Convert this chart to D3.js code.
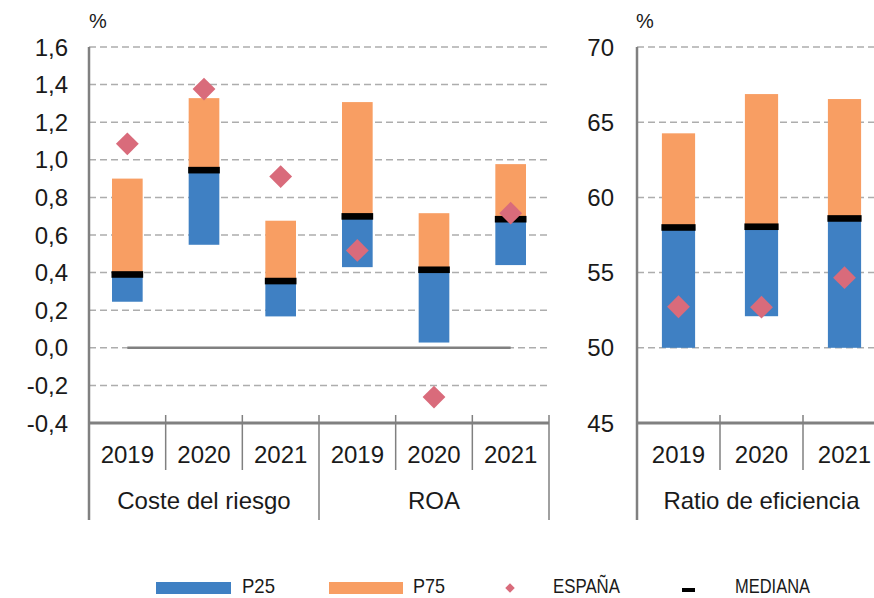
<!DOCTYPE html>
<html>
<head>
<meta charset="utf-8">
<script src="https://cdn.jsdelivr.net/npm/d3@7"></script>
<style>
  body { margin: 0; background: #fff; }
  svg { display: block; font-family: "Liberation Sans", Arial, sans-serif; }
</style>
</head>
<body>
<div id="chart"></div>
<script>
// Data
const years = ['2019', '2020', '2021'];
const leftGroups = ['Coste del riesgo', 'ROA'];
const rightGroups = ['Ratio de eficiencia'];

const costeP25 = [0.245, 0.548, 0.167];
const costeMed = [0.39, 0.945, 0.355];
const costeP75 = [0.90, 1.328, 0.676];
const costeEsp = [1.085, 1.376, 0.911];

const roaP25 = [0.429, 0.028, 0.44];
const roaMed = [0.699, 0.415, 0.684];
const roaP75 = [1.307, 0.716, 0.977];
const roaEsp = [0.518, -0.262, 0.716];

const efP25 = [50.0, 52.1, 50.0];
const efMed = [58.0, 58.05, 58.6];
const efP75 = [64.26, 66.87, 66.54];
const efEsp = [52.73, 52.7, 54.66];

const leftTicks = [-0.4, -0.2, 0, 0.2, 0.4, 0.6, 0.8, 1.0, 1.2, 1.4, 1.6];
const rightTicks = [45, 50, 55, 60, 65, 70];

const legendItems = ['P25', 'P75', 'ESPAÑA', 'MEDIANA'];

const C = {
  blue: '#3f80c3',
  orange: '#f89e63',
  pink: '#d96b7b',
  axis: '#808080',
  grid: '#adadad',
  text: '#1a1a1a'
};

const W = 874, H = 598;
const yTop = 47, yBottom = 423;

const svg = d3.select('#chart').append('svg')
  .attr('width', W)
  .attr('height', H);

function rowsFor(group, p25, med, p75, esp) {
  return years.map((y, i) => ({ key: group + '|' + y, group, year: y, p25: p25[i], med: med[i], p75: p75[i], esp: esp[i] }));
}

const leftRows = [
  ...rowsFor(leftGroups[0], costeP25, costeMed, costeP75, costeEsp),
  ...rowsFor(leftGroups[1], roaP25, roaMed, roaP75, roaEsp)
];
const rightRows = rowsFor(rightGroups[0], efP25, efMed, efP75, efEsp);

function drawPanel(opts) {
  const { rows, groups, x0, x1, domain, ticks, fmt, labelRight, pctX, zeroLine } = opts;

  const x = d3.scaleBand().domain(rows.map(d => d.key)).range([x0, x1]).padding(0);
  const y = d3.scaleLinear().domain(domain).range([yBottom, yTop]);
  const g = svg.append('g');

  // gridlines
  g.selectAll('line.grid').data(ticks).join('line')
    .attr('x1', x0).attr('x2', Math.min(x1, W))
    .attr('y1', d => y(d)).attr('y2', d => y(d))
    .attr('stroke', C.grid)
    .attr('stroke-width', 1.5)
    .attr('stroke-dasharray', '7,4');

  // zero line (solid, from first to last category centre)
  if (zeroLine) {
    const first = rows[0].key, last = rows[rows.length - 1].key;
    g.append('line')
      .attr('x1', x(first) + x.bandwidth() / 2)
      .attr('x2', x(last) + x.bandwidth() / 2)
      .attr('y1', y(0)).attr('y2', y(0))
      .attr('stroke', C.axis)
      .attr('stroke-width', 2.5);
  }

  // tick labels
  g.selectAll('text.tick').data(ticks).join('text')
    .attr('x', labelRight)
    .attr('y', d => y(d))
    .attr('dy', '0.36em')
    .attr('text-anchor', 'end')
    .attr('font-size', 24)
    .attr('fill', C.text)
    .text(fmt);

  g.append('text')
    .attr('x', pctX).attr('y', 28)
    .attr('font-size', 20)
    .attr('fill', C.text)
    .text('%');

  const bw = x.bandwidth() * 0.4;
  const bx = d => x(d.key) + (x.bandwidth() - bw) / 2;

  // P25 -> median (blue)
  g.selectAll('rect.p25').data(rows).join('rect')
    .attr('x', bx)
    .attr('width', bw)
    .attr('y', d => y(d.med))
    .attr('height', d => y(d.p25) - y(d.med))
    .attr('fill', C.blue);

  // median -> P75 (orange)
  g.selectAll('rect.p75').data(rows).join('rect')
    .attr('x', bx)
    .attr('width', bw)
    .attr('y', d => y(d.p75))
    .attr('height', d => y(d.med) - y(d.p75))
    .attr('fill', C.orange);

  // median mark
  g.selectAll('rect.med').data(rows).join('rect')
    .attr('x', d => bx(d) - 0.5)
    .attr('width', bw + 1)
    .attr('y', d => y(d.med) - 3.3)
    .attr('height', 6.6)
    .attr('fill', '#000');

  // España diamonds
  const diamond = d3.symbol().type(d3.symbolSquare).size(260);
  g.selectAll('path.esp').data(rows).join('path')
    .attr('d', diamond)
    .attr('transform', d => `translate(${x(d.key) + x.bandwidth() / 2},${y(d.esp)}) rotate(45)`)
    .attr('fill', C.pink);

  // axes
  g.append('line')
    .attr('x1', x0).attr('x2', x0)
    .attr('y1', yTop).attr('y2', 520)
    .attr('stroke', C.axis).attr('stroke-width', 2.5);
  g.append('line')
    .attr('x1', x0).attr('x2', Math.min(x1, W))
    .attr('y1', yBottom).attr('y2', yBottom)
    .attr('stroke', C.axis).attr('stroke-width', 3);

  // category ticks / separators
  const bounds = rows.map(d => x(d.key)).slice(1).concat([x1]);
  g.selectAll('line.sep').data(bounds).join('line')
    .attr('x1', d => d).attr('x2', d => d)
    .attr('y1', yBottom - 8)
    .attr('y2', (d, i) => ((i + 1) % years.length === 0 ? 520 : 470))
    .attr('stroke', C.axis)
    .attr('stroke-width', 1.5);

  // year labels
  g.selectAll('text.year').data(rows).join('text')
    .attr('x', d => x(d.key) + x.bandwidth() / 2)
    .attr('y', 463)
    .attr('text-anchor', 'middle')
    .attr('font-size', 24)
    .attr('fill', C.text)
    .text(d => d.year);

  // group labels
  g.selectAll('text.group').data(groups).join('text')
    .attr('x', grp => {
      const ks = rows.filter(r => r.group === grp).map(r => r.key);
      return (x(ks[0]) + x(ks[ks.length - 1]) + x.bandwidth()) / 2;
    })
    .attr('y', 509)
    .attr('text-anchor', 'middle')
    .attr('font-size', 24)
    .attr('fill', C.text)
    .text(d => d);
}

drawPanel({
  rows: leftRows, groups: leftGroups,
  x0: 89, x1: 549,
  domain: [-0.4, 1.6], ticks: leftTicks,
  fmt: d => d3.format('.1f')(d).replace('.', ',').replace('−', '-'),
  labelRight: 68, pctX: 89, zeroLine: true
});

drawPanel({
  rows: rightRows, groups: rightGroups,
  x0: 637, x1: 886,
  domain: [45, 70], ticks: rightTicks,
  fmt: d => String(d),
  labelRight: 614, pctX: 636, zeroLine: false
});

// Legend (condensed text, like the original narrow face)
const lg = svg.append('g')
  .attr('font-size', 21)
  .attr('fill', C.text);
const ly = 588;

function legendText(x, w, label) {
  lg.append('text')
    .attr('x', x).attr('y', ly + 5)
    .attr('textLength', w)
    .attr('lengthAdjust', 'spacingAndGlyphs')
    .text(label);
}

lg.append('rect').attr('x', 156).attr('y', ly - 6).attr('width', 75).attr('height', 12).attr('fill', C.blue);
legendText(242, 33, legendItems[0]);

lg.append('rect').attr('x', 329).attr('y', ly - 6).attr('width', 74).attr('height', 12).attr('fill', C.orange);
legendText(413, 32, legendItems[1]);

lg.append('path')
  .attr('d', d3.symbol().type(d3.symbolSquare).size(45))
  .attr('transform', `translate(510,${ly}) rotate(45)`)
  .attr('fill', C.pink);
legendText(553, 67, legendItems[2]);

lg.append('rect').attr('x', 682).attr('y', ly) .attr('width', 13).attr('height', 4).attr('fill', '#000');
legendText(735, 75, legendItems[3]);
</script>
</body>
</html>
